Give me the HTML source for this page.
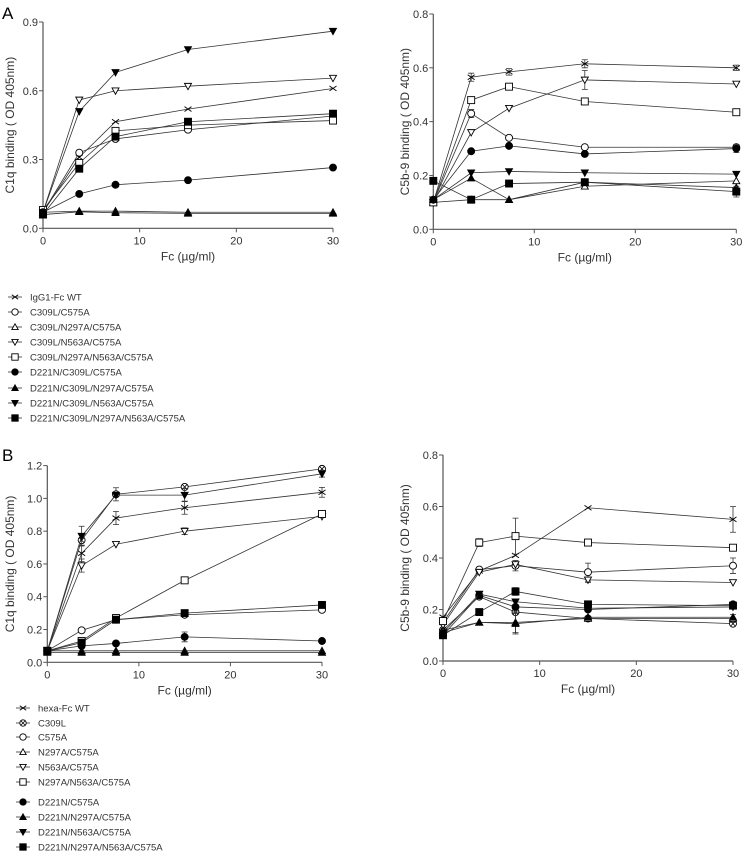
<!DOCTYPE html>
<html><head><meta charset="utf-8"><style>
body{margin:0;background:#fff}
svg{display:block;font-family:"Liberation Sans",sans-serif}
</style></head><body>
<svg id="fig" width="744" height="854" viewBox="0 0 744 854" xmlns="http://www.w3.org/2000/svg">
<text x="2" y="19" font-size="17">A</text>
<text x="2" y="461" font-size="17">B</text>
</svg>
<script>
const xVals=[0,3.75,7.5,15,30];
const xTicks=[0,10,20,30];
// Panel A left - C1q
const aNames=["IgG1-Fc WT","C309L/C575A","C309L/N297A/C575A","C309L/N563A/C575A","C309L/N297A/N563A/C575A","D221N/C309L/C575A","D221N/C309L/N297A/C575A","D221N/C309L/N563A/C575A","D221N/C309L/N297A/N563A/C575A"];
const aMarkers=["x","o","tu","td","s","O","TU","TD","S"];
const aC1q=[[0.07,0.31,0.465,0.52,0.61],[0.07,0.33,0.39,0.43,0.49],[0.07,0.075,0.075,0.07,0.07],[0.07,0.56,0.60,0.62,0.655],[0.08,0.285,0.425,0.45,0.47],[0.07,0.15,0.19,0.21,0.265],[0.06,0.072,0.068,0.065,0.065],[0.07,0.51,0.68,0.78,0.86],[0.06,0.26,0.40,0.465,0.50]];
const aC5b=[[0.10,0.565,0.585,0.615,0.60],[0.10,0.43,0.34,0.305,0.305],[0.10,0.11,0.11,0.16,0.18],[0.10,0.36,0.45,0.555,0.54],[0.10,0.48,0.53,0.475,0.435],[0.11,0.29,0.31,0.28,0.30],[0.11,0.19,0.11,0.175,0.155],[0.11,0.21,0.215,0.21,0.205],[0.18,0.11,0.17,0.175,0.14]];
const aC5bErr=[[0,0.015,0.012,0.015,0.01],[0,0.015,0,0,0],[0,0,0,0,0],[0,0,0,0.035,0],[0,0,0,0,0],[0,0,0,0,0.015],[0,0,0,0,0],[0,0,0,0,0],[0,0,0,0,0.02]];
// Panel B
const bNames=["hexa-Fc WT","C309L","C575A","N297A/C575A","N563A/C575A","N297A/N563A/C575A","D221N/C575A","D221N/N297A/C575A","D221N/N563A/C575A","D221N/N297A/N563A/C575A"];
const bMarkers=["x","cx","o","tu","td","s","O","TU","TD","S"];
const bC1q=[[0.07,0.665,0.88,0.943,1.037],[0.07,0.745,1.025,1.07,1.18],[0.07,0.195,0.26,0.29,0.32],[0.07,0.07,0.07,0.07,0.07],[0.07,0.59,0.72,0.80,0.89],[0.07,0.13,0.27,0.50,0.905],[0.07,0.10,0.115,0.155,0.13],[0.06,0.06,0.06,0.06,0.06],[0.07,0.77,1.02,1.02,1.15],[0.07,0.12,0.26,0.30,0.35]];
const bC1qErr=[[0,0.05,0.04,0.04,0.03],[0,0,0.04,0,0],[0,0,0,0,0],[0,0,0,0,0],[0,0.04,0,0.02,0],[0,0,0,0,0],[0,0,0,0.03,0],[0,0,0,0,0],[0,0.06,0,0.04,0.02],[0,0,0,0,0]];
const bC5b=[[0.17,0.35,0.41,0.595,0.55],[0.12,0.25,0.19,0.165,0.145],[0.15,0.355,0.37,0.345,0.37],[0.12,0.15,0.15,0.165,0.165],[0.14,0.345,0.375,0.315,0.305],[0.155,0.46,0.485,0.46,0.44],[0.10,0.255,0.21,0.20,0.22],[0.11,0.15,0.145,0.17,0.17],[0.11,0.26,0.23,0.205,0.21],[0.10,0.19,0.27,0.22,0.215]];
const bC5bErr=[[0,0,0,0,0.05],[0,0,0,0,0],[0,0,0.02,0.035,0.03],[0,0,0.04,0,0.015],[0,0,0,0.01,0],[0,0.015,0.07,0,0],[0,0,0,0,0],[0,0,0.04,0,0],[0,0,0,0,0],[0,0,0.015,0,0]];

const NS="http://www.w3.org/2000/svg";
const svg=document.getElementById('fig');
function mk(tag,attrs,parent){const e=document.createElementNS(NS,tag);for(const k in attrs)e.setAttribute(k,attrs[k]);(parent||svg).appendChild(e);return e;}
function marker(g,type,cx,cy,r){
  const filled=type===type.toUpperCase()&&type!=="x";
  const fill=filled?"#000":"#fff";const st={stroke:"#000","stroke-width":0.9,fill:fill};
  let m;const t=type.toLowerCase();
  if(t==="o"){m=mk('circle',Object.assign({cx:cx,cy:cy,r:r},st),g);}
  else if(t==="s"){m=mk('rect',Object.assign({x:cx-r,y:cy-r,width:2*r,height:2*r},st),g);}
  else if(t==="tu"){m=mk('polygon',Object.assign({points:`${cx-r},${cy+r*0.8} ${cx+r},${cy+r*0.8} ${cx},${cy-r}`},st),g);}
  else if(t==="td"){m=mk('polygon',Object.assign({points:`${cx-r},${cy-r*0.8} ${cx+r},${cy-r*0.8} ${cx},${cy+r}`},st),g);}
  else if(t==="x"){m=mk('path',{d:`M${cx-r} ${cy-r*0.7}L${cx+r} ${cy+r*0.7}M${cx-r} ${cy+r*0.7}L${cx+r} ${cy-r*0.7}`,stroke:"#000","stroke-width":0.9,fill:"none"},g);}
  else if(t==="cx"){m=mk('g',{},g);mk('circle',{cx:cx,cy:cy,r:r,fill:"#fff",stroke:"#000","stroke-width":0.9},m);
    const d=r*0.7;mk('path',{d:`M${cx-d} ${cy-d}L${cx+d} ${cy+d}M${cx-d} ${cy+d}L${cx+d} ${cy-d}`,stroke:"#000","stroke-width":0.8},m);}
  return m;
}
function panel(id,P,series,errs,markers,yTicks,ytitle,fmt){
  const g=mk('g',{});
  
  
  const sx=v=>P.x0+(v-0)/30*(P.x1-P.x0);
  const sy=v=>P.y0-(v/P.ymax)*(P.y0-P.y1);
  const ax=mk('path',{d:`M${P.ax} ${sy(0)}L${P.ax} ${sy(P.ymax)}M${sx(0)} ${P.y0}L${sx(30)} ${P.y0}`,stroke:"#555","stroke-width":1.2,fill:"none"},g);
  
  
  yTicks.forEach(v=>{const y=sy(v);mk('line',{x1:P.ax-4,x2:P.ax,y1:y,y2:y,stroke:"#555"},g);
    const t=mk('text',{x:P.ax-5,y:y+4,"font-size":11,"text-anchor":"end",fill:"#333"},g);t.textContent=v.toFixed(1);
    
    });
  xTicks.forEach(v=>{const x=sx(v);mk('line',{x1:x,x2:x,y1:P.y0,y2:P.y0+4,stroke:"#555"},g);
    const t=mk('text',{x:x,y:P.y0+16,"font-size":11,"text-anchor":"middle",fill:"#333"},g);t.textContent=v;
    
    });
  const xt=mk('text',{x:(sx(0)+sx(30))/2,y:P.y0+32,"font-size":12,"text-anchor":"middle",fill:"#333"},g);xt.textContent="Fc (µg/ml)";
  
  
  const yc=(sy(0)+sy(P.ymax))/2;
  const yt=mk('text',{x:P.ytx,y:yc,"font-size":12,"text-anchor":"middle",fill:"#333",transform:`rotate(-90 ${P.ytx} ${yc})`},g);yt.textContent=ytitle;
  
  
  series.forEach((s,i)=>{
    const sg=mk('g',{},g);
    
    
    const pl=mk('polyline',{points:s.map((v,j)=>sx(xVals[j])+","+sy(v)).join(" "),fill:"none",stroke:"#333","stroke-width":0.8},sg);
    
    
    s.forEach((v,j)=>{const e=errs?errs[i][j]:0;const x=sx(xVals[j]);
      if(e>0){mk('path',{d:`M${x} ${sy(v-e)}L${x} ${sy(v+e)}M${x-3} ${sy(v-e)}L${x+3} ${sy(v-e)}M${x-3} ${sy(v+e)}L${x+3} ${sy(v+e)}`,stroke:"#333","stroke-width":0.8,fill:"none"},sg);}
      const m=marker(sg,markers[i],x,sy(v),3.5);
      
      });
  });
}
function legend(id,names,markers,x,ys){
  const g=mk('g',{});
  
  
  names.forEach((n,i)=>{const eg=mk('g',{},g);
    
    
    mk('line',{x1:x-7,x2:x+7,y1:ys[i],y2:ys[i],stroke:"#333","stroke-width":0.8},eg);
    marker(eg,markers[i],x,ys[i],3.2);
    const t=mk('text',{x:x+15,y:ys[i]+3.5,"font-size":9.5,fill:"#333"},eg);t.textContent=n;});
}
panel('panel-a-c1q-chart',{x0:43,x1:333,ax:43,y0:228.3,y1:22,ymax:0.9,ytx:14},aC1q,null,aMarkers,[0,0.3,0.6,0.9],"C1q binding ( OD 405nm)");
panel('panel-a-c5b9-chart',{x0:433.3,x1:736.3,ax:433.3,y0:229.3,y1:14,ymax:0.8,ytx:409},aC5b,aC5bErr,aMarkers,[0,0.2,0.4,0.6,0.8],"C5b-9 binding ( OD 405nm)");
panel('panel-b-c1q-chart',{x0:47.3,x1:322,ax:47.3,y0:662.3,y1:465.6,ymax:1.2,ytx:14},bC1q,bC1qErr,bMarkers,[0,0.2,0.4,0.6,0.8,1.0,1.2],"C1q binding ( OD 405nm)");
panel('panel-b-c5b9-chart',{x0:443,x1:733,ax:443,y0:661,y1:455,ymax:0.8,ytx:409},bC5b,bC5bErr,bMarkers,[0,0.2,0.4,0.6,0.8],"C5b-9 binding ( OD 405nm)");
legend('panel-a-legend',aNames,aMarkers,15,[297,312,327,342,357,372,388,403,418]);
legend('panel-b-legend',bNames,bMarkers,23,[708,723,737,752,767,782,802,817,832,847]);
</script>
</body></html>
